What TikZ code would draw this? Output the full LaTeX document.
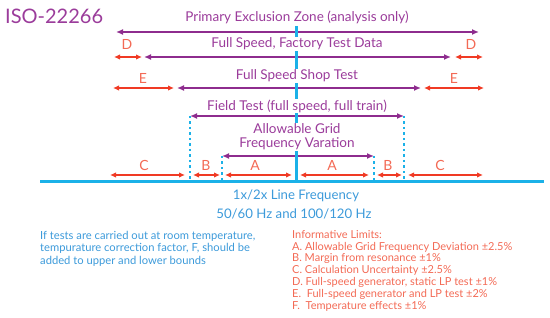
\documentclass[tikz,border=0pt]{standalone}
\usepackage{fontspec}
\setmainfont{Lato}
\usetikzlibrary{arrows.meta}
\definecolor{gePurple}{HTML}{8E2C8E}
\definecolor{geText}{HTML}{9B3C9B}
\definecolor{geRed}{HTML}{F03A24}
\definecolor{geSalmon}{HTML}{F36A55}
\definecolor{geBlue}{HTML}{1BB1E8}
\definecolor{geNote}{HTML}{3C9ADA}
\tikzset{
  purplearrow/.style={gePurple, line width=1.4pt, {Latex[length=7pt,width=6pt]}-{Latex[length=7pt,width=6pt]}},
  redarrow/.style={geRed, line width=1.4pt, {Latex[length=6pt,width=5.5pt]}-{Latex[length=6pt,width=5.5pt]}},
  dotline/.style={geBlue, line width=2.5pt, dash pattern=on 2.2pt off 3.3pt},
  blueline/.style={geBlue, line width=3pt},
  rowtext/.style={text=geText, font=\fontsize{13.5}{14}\selectfont, fill=white, inner sep=1pt, align=center},
  letter/.style={text=geSalmon, font=\fontsize{14}{15}\selectfont, inner sep=0pt},
  freqtext/.style={text=geNote, font=\fontsize{13.2}{14}\selectfont, inner sep=0pt},
}
\begin{document}
\begin{tikzpicture}[x=1pt,y=-1pt]
\useasboundingbox (0,0) rectangle (550,318);
% coordinates
\coordinate (pzl) at (116,32); \coordinate (pzr) at (479,32);
\coordinate (dll) at (114,57); \coordinate (dlr) at (142,57);
\coordinate (ftl) at (144,57); \coordinate (ftr) at (451,57);
\coordinate (drl) at (455,57); \coordinate (drr) at (483,57);
\coordinate (ell) at (113,88); \coordinate (elr) at (174,88);
\coordinate (stl) at (177,88); \coordinate (str) at (421,88);
\coordinate (erl) at (424,88); \coordinate (err) at (484,88);
\coordinate (fdl) at (190,116); \coordinate (fdr) at (404,116);
\coordinate (gdl) at (222,156); \coordinate (gdr) at (374,156);
\coordinate (fbl) at (190,182); \coordinate (fbr) at (404,182);
\coordinate (gbl) at (222,182); \coordinate (gbr) at (374,182);
\coordinate (c1a) at (110,175); \coordinate (c1b) at (185,175);
\coordinate (b1a) at (193,175); \coordinate (b1b) at (220,175);
\coordinate (a1a) at (225,175); \coordinate (a1b) at (292,175);
\coordinate (a2a) at (300,175); \coordinate (a2b) at (369,175);
\coordinate (b2a) at (377,175); \coordinate (b2b) at (402,175);
\coordinate (c2a) at (408,175); \coordinate (c2b) at (483,175);
\coordinate (basel) at (40,182); \coordinate (baser) at (544,182);
\coordinate (ctop) at (296,26); \coordinate (cbot) at (296,182);
% purple arrows
\draw[purplearrow] (pzl) -- (pzr);
\draw[purplearrow] (ftl) -- (ftr);
\draw[purplearrow] (stl) -- (str);
\draw[purplearrow] (fdl) -- (fdr);
\draw[purplearrow] (gdl) -- (gdr);
% red arrows
\draw[redarrow] (dll) -- (dlr);
\draw[redarrow] (drl) -- (drr);
\draw[redarrow] (ell) -- (elr);
\draw[redarrow] (erl) -- (err);
\draw[redarrow] (c1a) -- (c1b);
\draw[redarrow] (b1a) -- (b1b);
\draw[redarrow] (a1a) -- (a1b);
\draw[redarrow] (a2a) -- (a2b);
\draw[redarrow] (b2a) -- (b2b);
\draw[redarrow] (c2a) -- (c2b);
% dotted verticals
\draw[dotline] (fdl) -- (fbl);
\draw[dotline] (fdr) -- (fbr);
\draw[dotline] (gdl) -- (gbl);
\draw[dotline] (gdr) -- (gbr);
% blue lines
\draw[blueline] (ctop) -- (cbot);
\draw[blueline] (basel) -- (baser);
% texts
\node[text=geText, font=\fontsize{20}{22}\selectfont, anchor=west, inner sep=0pt] (title) at (5,16) {ISO-22266};
\node[rowtext] (pz) at (297,17) {Primary Exclusion Zone (analysis only)};
\node[rowtext] (ft) at (297,44) {Full Speed, Factory Test Data};
\node[rowtext] (st) at (297,76) {Full Speed Shop Test};
\node[rowtext] (fd) at (297,106) {Field Test (full speed, full train)};
\node[rowtext] (gd) at (297,137) {Allowable Grid\\Frequency Varation};
\node[letter] (ld1) at (127,44) {D};
\node[letter] (ld2) at (471,44) {D};
\node[letter] (le1) at (143,78) {E};
\node[letter] (le2) at (454,78) {E};
\node[letter] (lc1) at (144,165) {C};
\node[letter] (lb1) at (206,165) {B};
\node[letter] (la1) at (255,165) {A};
\node[letter] (la2) at (332,165) {A};
\node[letter] (lb2) at (388,165) {B};
\node[letter] (lc2) at (440,165) {C};
\node[freqtext] (lf1) at (296,196) {1x/2x Line Frequency};
\node[freqtext] (lf2) at (294,214) {50/60 Hz and 100/120 Hz};
\node[text=geNote, font=\fontsize{11.2}{12.3}\selectfont, anchor=north west, align=left, inner sep=0pt] (note) at (40,231)
  {If tests are carried out at room temperature,\\tempurature correction factor, F, should be\\added to upper and lower bounds};
\node[text=geSalmon, font=\fontsize{11}{11.8}\selectfont, anchor=north west, align=left, inner sep=0pt] (limits) at (292,230)
  {Informative Limits:\\
   A.\ Allowable Grid Frequency Deviation ±2.5\%\\
   B.\ Margin from resonance ±1\%\\
   C.\ Calculation Uncertainty ±2.5\%\\
   D.\ Full-speed generator, static LP test ±1\%\\
   E.\ \ Full-speed generator and LP test ±2\%\\
   F.\ \ Temperature effects ±1\%};
\end{tikzpicture}
\end{document}
